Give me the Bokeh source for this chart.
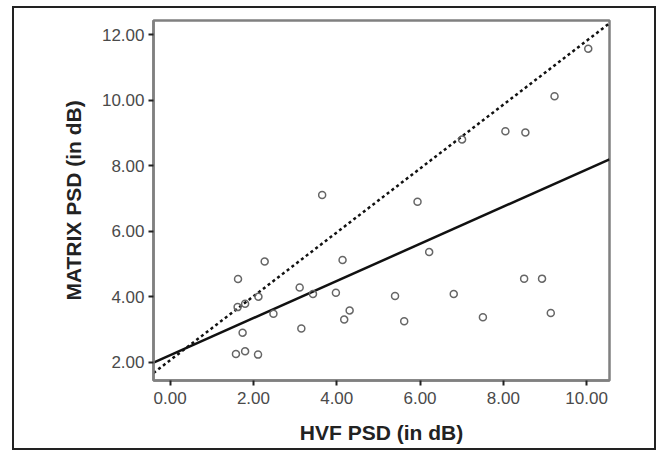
from bokeh.plotting import figure
from bokeh.models import Range1d, FixedTicker, CustomJSTickFormatter
from bokeh.embed import file_html
from bokeh.resources import INLINE

# data
hvf_psd = [1.58, 1.80, 2.11, 1.74, 1.62, 1.80, 1.63, 2.12, 2.27, 2.48, 3.11, 3.15,
           3.43, 3.65, 3.98, 4.14, 4.18, 4.31, 5.40, 5.62, 5.94, 6.22, 6.81, 7.01,
           7.51, 8.05, 8.50, 8.53, 8.93, 9.14, 9.23, 10.04]
matrix_psd = [2.25, 2.33, 2.23, 2.90, 3.68, 3.78, 4.54, 4.00, 5.07, 3.48, 4.28, 3.03,
              4.08, 7.10, 4.12, 5.12, 3.30, 3.58, 4.02, 3.25, 6.90, 5.36, 4.08, 8.80,
              3.37, 9.05, 4.55, 9.01, 4.55, 3.50, 10.12, 11.57]

# regression (solid) and reference (dashed) lines: slope, intercept
fit_slope, fit_intercept = 0.567, 2.21
ref_slope, ref_intercept = 0.975, 2.06

x_ticks = [0, 2, 4, 6, 8, 10]
y_ticks = [2, 4, 6, 8, 10, 12]

x_min, x_max = -0.4, 10.55
y_min, y_max = 1.44, 12.43

p = figure(width=644, height=444, output_backend="svg", toolbar_location=None,
           x_range=Range1d(x_min, x_max), y_range=Range1d(y_min, y_max),
           min_border_left=139, min_border_right=49, min_border_top=12,
           min_border_bottom=72, background_fill_color="white",
           border_fill_color="white")
p.margin = (6, 0, 0, 12)
p.styles = {"border": "2px solid #222222"}

p.grid.visible = False
p.outline_line_color = "#808080"
p.outline_line_width = 2.5

fmt = CustomJSTickFormatter(code="return tick.toFixed(2);")
for ax, ticks in ((p.xaxis, x_ticks), (p.yaxis, y_ticks)):
    ax.ticker = FixedTicker(ticks=ticks)
    ax.formatter = fmt
    ax.axis_line_color = "#808080"
    ax.axis_line_width = 2.5
    ax.major_tick_line_color = "#222222"
    ax.major_tick_line_width = 2
    ax.major_tick_out = 5
    ax.major_tick_in = 0
    ax.minor_tick_line_color = None
    ax.major_label_text_font = "Liberation Sans"
    ax.major_label_text_font_size = "17px"
    ax.major_label_text_color = "#4a4a4a"
    ax.axis_label_text_font = "Liberation Sans"
    ax.axis_label_text_font_size = "21px"
    ax.axis_label_text_font_style = "bold"
    ax.axis_label_text_color = "#222222"

p.xaxis.axis_label = "HVF PSD (in dB)"
p.yaxis.axis_label = "MATRIX PSD (in dB)"
p.xaxis.major_label_standoff = 6
p.yaxis.major_label_standoff = 4
p.xaxis.axis_label_standoff = 14
p.yaxis.axis_label_standoff = 14

# lines
xs_line = [x_min, x_max]
p.line(xs_line, [fit_intercept + fit_slope * v for v in xs_line],
       line_color="#111111", line_width=2.5)
p.line(xs_line, [ref_intercept + ref_slope * v for v in xs_line],
       line_color="#111111", line_width=2.5, line_dash="3 3")

p.scatter(hvf_psd, matrix_psd, marker="circle", size=7, fill_color=None,
          line_color="#666666", line_width=1.5)

open("out.html", "w").write(file_html(p, INLINE))
